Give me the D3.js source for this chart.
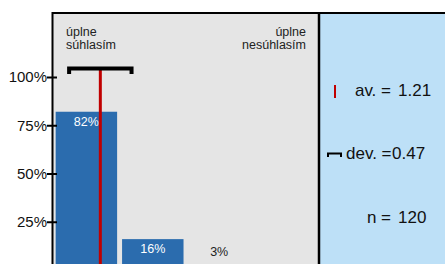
<!DOCTYPE html>
<html>
<head>
<meta charset="utf-8">
<script src="https://cdn.jsdelivr.net/npm/d3@7"></script>
<style>
body { margin: 0; background: #fff; }
svg { display: block; font-family: "Liberation Sans", Arial, sans-serif; }
</style>
</head>
<body>
<div id="chart"></div>
<script>
// data
var categories = [1, 2, 3, 4];
var shares = [82, 16, 3, 0];
var yTicks = [25, 50, 75, 100];
var scaleEnds = ["úplne súhlasím", "úplne nesúhlasím"];
var stats = {mean: 1.21, dev: 0.47, n: 120};

var width = 445, height = 264;

var svg = d3.select("#chart").append("svg")
    .attr("width", width)
    .attr("height", height);

// panel geometry
var panelLeft = 52, panelTop = 13, panelRight = 318;

// scales
var x = d3.scaleBand().domain(categories).range([panelLeft + 1, panelRight + 1]).paddingInner(5 / 67).paddingOuter(0.04);
var y = d3.scaleLinear().domain([0, 100]).range([270, 77]);
// continuous scale for mean / deviation on the category axis
var xc = d3.scaleLinear().domain([1, 2]).range([x(1) + x.bandwidth() / 2, x(2) + x.bandwidth() / 2]);

// backgrounds
svg.append("rect")
    .attr("x", panelLeft).attr("y", panelTop)
    .attr("width", panelRight - panelLeft).attr("height", height - panelTop)
    .attr("fill", "#e5e5e5");
svg.append("rect")
    .attr("x", panelRight).attr("y", panelTop)
    .attr("width", width - panelRight).attr("height", height - panelTop)
    .attr("fill", "#bde0f7");

// bars
svg.selectAll(".bar")
    .data(shares)
    .enter().append("rect")
        .attr("class", "bar")
        .attr("x", function(d, i){ return x(categories[i]); })
        .attr("width", x.bandwidth())
        .attr("y", function(d){ return y(d); })
        .attr("height", function(d){ return y(0) - y(d); })
        .attr("fill", "#2b6cae");

// bar labels
svg.selectAll(".lbl")
    .data(shares)
    .enter().append("text")
        .filter(function(d){ return d > 0; })
        .attr("x", function(d, i){ return x(categories[i]) + x.bandwidth() / 2; })
        .attr("y", function(d){ return d > 10 ? y(d) + 14 : y(d) - 8; })
        .attr("text-anchor", "middle")
        .attr("font-size", 12.5)
        .attr("fill", function(d){ return d > 10 ? "#fff" : "#222"; })
        .text(function(d){ return d + "%"; });

// mean line
svg.append("line")
    .attr("x1", xc(stats.mean)).attr("x2", xc(stats.mean))
    .attr("y1", 70).attr("y2", height)
    .attr("stroke", "#c00000")
    .attr("stroke-width", 3);

// deviation bracket
var b0 = xc(stats.mean - stats.dev), b1 = xc(stats.mean + stats.dev);
svg.append("path")
    .attr("d", "M" + b0 + ",74V68.5H" + b1 + "V74")
    .attr("fill", "none")
    .attr("stroke", "#000")
    .attr("stroke-width", 4);

// scale end labels
var endLab = svg.append("g").attr("font-size", 12.5).attr("fill", "#222");
endLab.append("text").attr("x", 66).attr("y", 36).text(scaleEnds[0].split(" ")[0]);
endLab.append("text").attr("x", 66).attr("y", 49).text(scaleEnds[0].split(" ")[1]);
endLab.append("text").attr("x", 306).attr("y", 36).attr("text-anchor", "end").text(scaleEnds[1].split(" ")[0]);
endLab.append("text").attr("x", 306).attr("y", 49).attr("text-anchor", "end").text(scaleEnds[1].split(" ")[1]);

// y axis
var yAxis = svg.append("g")
    .attr("transform", "translate(" + (panelLeft + 5) + ",0)")
    .call(d3.axisLeft(y).tickValues(yTicks).tickSize(10).tickFormat(function(d){ return d + "%"; }));
yAxis.select(".domain").remove();
yAxis.selectAll(".tick line").attr("stroke", "#000").attr("stroke-width", 2);
yAxis.selectAll(".tick text")
    .attr("font-size", 15)
    .attr("font-family", "Liberation Sans, Arial, sans-serif")
    .attr("fill", "#111")
    .attr("x", -10);

// frame lines
svg.append("path")
    .attr("d", "M" + (panelLeft + 0.5) + "," + height + "V" + panelTop + "H" + width)
    .attr("fill", "none")
    .attr("stroke", "#000")
    .attr("stroke-width", 2);
svg.append("line")
    .attr("x1", panelRight + 1).attr("x2", panelRight + 1)
    .attr("y1", panelTop).attr("y2", height)
    .attr("stroke", "#000")
    .attr("stroke-width", 2.5);

// stats panel
var st = svg.append("g").attr("font-size", 17).attr("fill", "#111");
st.append("line")
    .attr("x1", 335).attr("x2", 335).attr("y1", 85).attr("y2", 98)
    .attr("stroke", "#c00000").attr("stroke-width", 2);
st.append("text").attr("x", 391).attr("y", 96).attr("text-anchor", "end").text("av. =");
st.append("text").attr("x", 398).attr("y", 96).text(stats.mean.toFixed(2));

st.append("path")
    .attr("d", "M328,157V153.5H341V157")
    .attr("fill", "none").attr("stroke", "#000").attr("stroke-width", 2);
st.append("text").attr("x", 346).attr("y", 159).text("dev. =");
st.append("text").attr("x", 392).attr("y", 159).text(stats.dev.toFixed(2));

st.append("text").attr("x", 391).attr("y", 223).attr("text-anchor", "end").text("n =");
st.append("text").attr("x", 398).attr("y", 223).text(stats.n);
</script>
</body>
</html>
